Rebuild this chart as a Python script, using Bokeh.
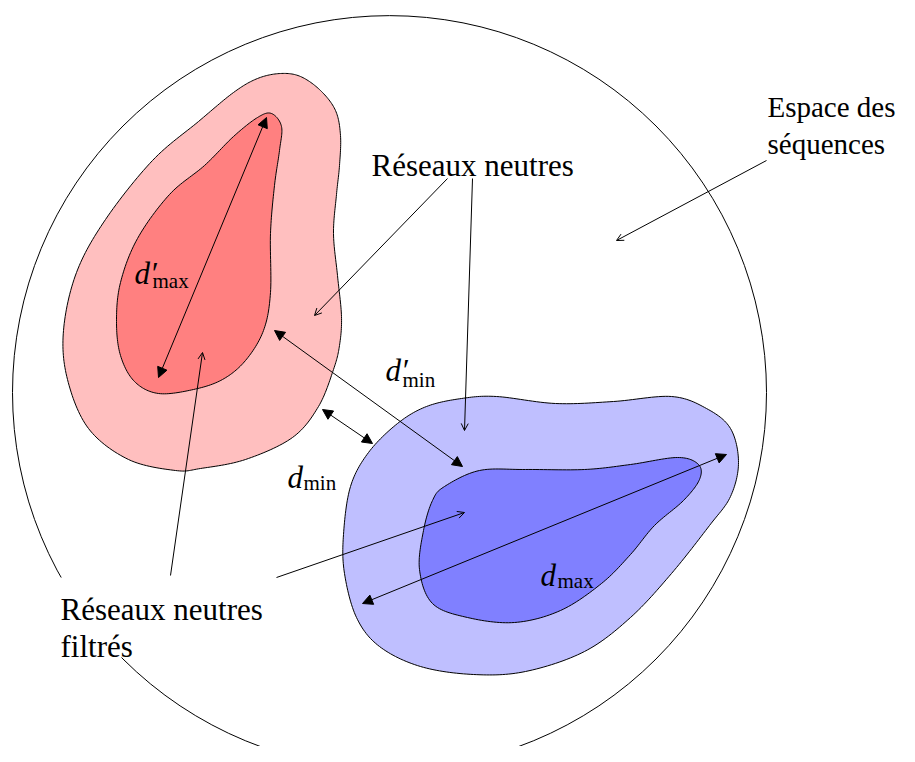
import numpy as np
from bokeh.plotting import figure
from bokeh.models import Range1d, Arrow, NormalHead, OpenHead
from bokeh.core.properties import value
from bokeh.embed import file_html
from bokeh.resources import INLINE

# ---- shapes (pixel-space outline control points) ----
space_cx, space_cy, space_r = 389, 392, 377

red_outer_x = [257, 280, 300, 320, 335, 340, 339, 336, 333, 337, 341, 339, 333, 318, 292, 245, 200, 175, 128, 88, 67, 63, 76, 105, 152, 198, 233]
red_outer_y = [78, 73, 76, 90, 110, 135, 165, 194, 233, 275, 316, 345, 369, 406, 437, 459, 468, 470, 459, 428, 379, 330, 272, 219, 160, 121, 92]
red_inner_x = [257, 271, 281, 279, 274, 270, 270, 263, 245, 222, 193, 158, 134, 120, 116, 120, 137, 169, 204, 233]
red_inner_y = [117, 113, 126, 150, 185, 233, 292, 330, 360, 379, 389, 393, 381, 355, 321, 282, 238, 194, 165, 136]
blue_outer_x = [461, 496, 555, 613, 671, 706, 730, 738, 730, 709, 671, 630, 584, 525, 473, 420, 379, 356, 344, 343, 350, 368, 397, 426]
blue_outer_y = [398, 396, 403, 401, 396, 408, 428, 462, 496, 525, 573, 617, 651, 671, 674, 666, 646, 617, 573, 534, 486, 452, 423, 406]
blue_inner_x = [444, 479, 525, 584, 630, 677, 698, 699, 683, 654, 630, 601, 560, 514, 467, 432, 419, 423, 432]
blue_inner_y = [486, 470, 469, 469, 464, 457, 464, 479, 500, 525, 554, 583, 610, 622, 617, 603, 569, 530, 500]

# distance arrows (double headed): x0, y0, x1, y1
dist_names = ["dpmax", "dmax", "dpmin", "dmin"]
dist_x0 = [158, 362, 274, 322]
dist_y0 = [377, 603, 330, 409]
dist_x1 = [266, 726, 462, 372]
dist_y1 = [117, 454, 466, 443]

# annotation arrows (single, open head)
ann_x0 = [447, 472, 766, 170, 276]
ann_y0 = [178, 178, 160, 575, 577]
ann_x1 = [314, 464, 616, 202, 464]
ann_y1 = [315, 430, 240, 352, 512]

# text labels
labels = ["Réseaux neutres", "Réseaux neutres", "filtrés"]
label_x = [371, 60, 60]
label_y = [165, 609, 646]
corner_labels = ["Espace des", "séquences"]
corner_x = [767, 767]
corner_y = [106, 143]

# distance symbols
sym_main = ["d′", "d′", "d", "d"]
sym_sub = ["max", "min", "min", "max"]
sym_x = [134, 385, 287, 540]
sym_y = [273, 370, 477, 575]
sub_x = [152, 402, 303, 557]
sub_y = [280, 379, 482, 580]

RED_LIGHT, RED_DARK = "#FFBFBF", "#FF8080"
BLUE_LIGHT, BLUE_DARK = "#BFBFFF", "#8080FF"
FONT = "Liberation Serif"


def smooth_closed(xs, ys, n=16):
    P = np.column_stack([xs, ys]).astype(float)
    m = len(P)
    out = []
    for i in range(m):
        p0, p1, p2, p3 = P[(i - 1) % m], P[i], P[(i + 1) % m], P[(i + 2) % m]
        for t in np.linspace(0, 1, n, endpoint=False):
            t2, t3 = t * t, t * t * t
            pt = 0.5 * ((2 * p1) + (-p0 + p2) * t + (2 * p0 - 5 * p1 + 4 * p2 - p3) * t2 + (-p0 + 3 * p1 - 3 * p2 + p3) * t3)
            out.append(pt)
    out = np.array(out)
    return list(out[:, 0]), list(out[:, 1])


p = figure(width=899, height=746, x_range=Range1d(0, 899), y_range=Range1d(746, 0),
           output_backend="svg", toolbar_location=None, min_border=0)
p.axis.visible = False
p.grid.visible = False
p.outline_line_color = None
p.background_fill_color = "white"

# sequence space circle
p.ellipse(x=[space_cx], y=[space_cy], width=2 * space_r, height=2 * space_r,
          fill_color=None, line_color="black", line_width=1)

for xs, ys, col in [(red_outer_x, red_outer_y, RED_LIGHT), (red_inner_x, red_inner_y, RED_DARK),
                    (blue_outer_x, blue_outer_y, BLUE_LIGHT), (blue_inner_x, blue_inner_y, BLUE_DARK)]:
    sx, sy = smooth_closed(xs, ys)
    p.patch(sx, sy, fill_color=col, line_color="black", line_width=1)

# white box behind the bottom-left label (hides the circle line)
p.quad(left=[52], right=[272], top=[577], bottom=[657], fill_color="white", line_color=None)

for x0, y0, x1, y1 in zip(dist_x0, dist_y0, dist_x1, dist_y1):
    p.add_layout(Arrow(start=NormalHead(size=10, fill_color="black", line_color="black", line_width=1),
                       end=NormalHead(size=10, fill_color="black", line_color="black", line_width=1),
                       x_start=x0, y_start=y0, x_end=x1, y_end=y1, line_width=1, line_color="black"))

for x0, y0, x1, y1 in zip(ann_x0, ann_y0, ann_x1, ann_y1):
    p.add_layout(Arrow(end=OpenHead(size=7, line_color="black", line_width=1),
                       x_start=x0, y_start=y0, x_end=x1, y_end=y1, line_width=1, line_color="black"))

p.text(x=label_x, y=label_y, text=labels, text_font=value(FONT), text_font_size="31px",
       text_baseline="alphabetic", text_align="left", text_color="black")
p.text(x=corner_x, y=corner_y, text=corner_labels, text_font=value(FONT), text_font_size="29px",
       text_baseline="alphabetic", text_align="left", text_color="black")

p.text(x=sym_x, y=sym_y, text=sym_main, text_font=value(FONT), text_font_size="31px",
       text_font_style="italic", text_baseline="alphabetic", text_align="left", text_color="black")
p.text(x=sub_x, y=sub_y, text=sym_sub, text_font=value(FONT), text_font_size="21px",
       text_baseline="alphabetic", text_align="left", text_color="black")

open("out.html", "w").write(file_html(p, INLINE))
